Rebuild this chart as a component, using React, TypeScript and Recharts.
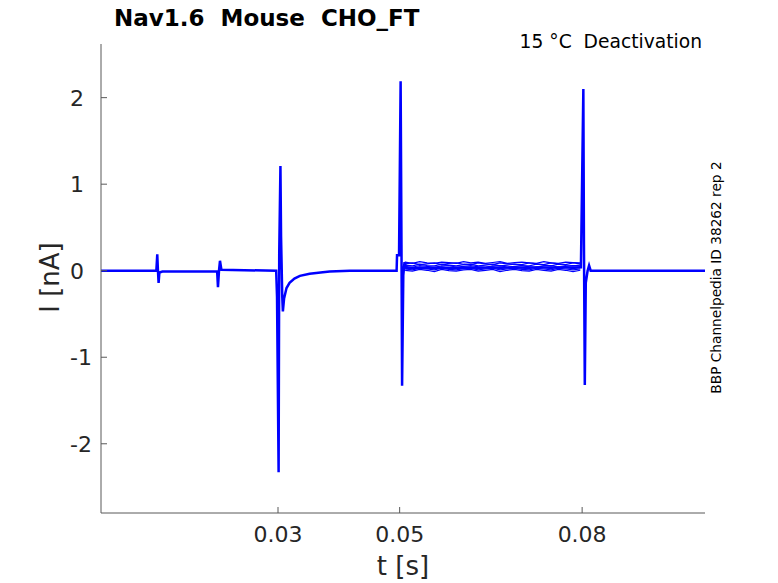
import { LineChart, Line, XAxis, YAxis } from "recharts";

// time [s] and current [nA] of the shared transient trace
const mainT = [
  0.0009, 0.01, 0.01015, 0.01025, 0.01037, 0.0105, 0.011, 0.02, 0.02013, 0.0203,
  0.02046, 0.0207, 0.0297, 0.02984, 0.0301, 0.0302, 0.0304, 0.0305, 0.0307, 0.0308,
  0.031, 0.0314, 0.0319, 0.0327, 0.0336, 0.0352, 0.037, 0.0385, 0.0418, 0.0495,
  0.04957, 0.0499, 0.05016, 0.0503, 0.0504, 0.0506, 0.0508, 0.0511, 0.0798, 0.0802,
  0.0803, 0.08044, 0.0806, 0.0809, 0.08114, 0.0814, 0.1002,
];
const mainI = [
  0.0, 0.0, 0.19, 0.02, -0.14, -0.02, -0.01, -0.01, -0.19, 0.0,
  0.115, 0.01, 0.0, -0.3, -2.33, 0.2, 1.21, 0.4, -0.3, -0.47,
  -0.32, -0.2, -0.14, -0.09, -0.06, -0.035, -0.02, -0.01, 0.0, 0.0,
  0.18, 0.18, 2.19, 0.3, -1.33, -0.05, 0.1, 0.03, 0.04, 2.1,
  0.3, -1.32, -0.14, 0.0, 0.06, 0.0, 0.0,
];

// plateau of the individual sweeps between 0.05 s and 0.08 s
const plateauT = [
  0.0509, 0.0521, 0.0533, 0.0545, 0.0557, 0.0569, 0.0581, 0.0593, 0.0605, 0.0617,
  0.0629, 0.0641, 0.0653, 0.0665, 0.0677, 0.0689, 0.0701, 0.0713, 0.0725, 0.0737,
  0.0749, 0.0761, 0.0773, 0.0785, 0.0797,
];
const sweep1 = [0.1, 0.085, 0.105, 0.09, 0.085, 0.1, 0.095, 0.085, 0.105, 0.09, 0.1, 0.085, 0.095, 0.105, 0.085, 0.095, 0.1, 0.09, 0.085, 0.105, 0.09, 0.085, 0.1, 0.095, 0.09];
const sweep2 = [0.08, 0.09, 0.07, 0.08, 0.09, 0.07, 0.085, 0.09, 0.075, 0.07, 0.09, 0.08, 0.07, 0.09, 0.08, 0.075, 0.07, 0.09, 0.08, 0.07, 0.09, 0.08, 0.07, 0.09, 0.08];
const sweep3 = [0.065, 0.055, 0.075, 0.06, 0.055, 0.075, 0.065, 0.055, 0.07, 0.075, 0.055, 0.065, 0.075, 0.055, 0.065, 0.075, 0.06, 0.055, 0.075, 0.065, 0.055, 0.075, 0.06, 0.055, 0.065];
const sweep4 = [0.05, 0.04, 0.06, 0.05, 0.04, 0.055, 0.06, 0.04, 0.05, 0.06, 0.045, 0.04, 0.055, 0.06, 0.04, 0.05, 0.06, 0.045, 0.04, 0.055, 0.06, 0.04, 0.05, 0.06, 0.05];
const sweep5 = [0.035, 0.025, 0.045, 0.035, 0.025, 0.045, 0.03, 0.025, 0.04, 0.045, 0.025, 0.035, 0.045, 0.025, 0.035, 0.045, 0.03, 0.025, 0.045, 0.035, 0.025, 0.045, 0.035, 0.025, 0.035];
const sweep6 = [0.02, 0.01, 0.03, 0.02, 0.01, 0.03, 0.015, 0.01, 0.025, 0.03, 0.01, 0.02, 0.03, 0.01, 0.02, 0.03, 0.015, 0.01, 0.03, 0.02, 0.01, 0.03, 0.02, 0.01, 0.02];
const sweep7 = [0.005, -0.005, 0.015, 0.005, -0.01, 0.015, 0.0, -0.005, 0.01, 0.015, -0.005, 0.005, 0.015, -0.01, 0.005, 0.015, 0.0, -0.005, 0.015, 0.005, -0.005, 0.015, 0.005, -0.01, 0.005];
const sweeps = [sweep1, sweep2, sweep3, sweep4, sweep5, sweep6, sweep7];

const xTicks = [0.03, 0.05, 0.08];
const yTicks = [-2, -1, 0, 1, 2];

const BLUE = "#0000ff";
const AXIS = "#595959";
const TEXT = "#262626";
const FONT = "'DejaVu Sans', sans-serif";

const mainData = mainT.map((t, k) => ({ t, i: mainI[k] }));
const sweepData = sweeps.map((s) => plateauT.map((t, k) => ({ t, i: s[k] })));

const XTick = ({ x, y, payload }: any) => (
  <g>
    <line x1={x} x2={x} y1={y} y2={y - 6} stroke={AXIS} />
    <text x={x} y={y + 29} textAnchor="middle" fontSize={22} fill={TEXT} fontFamily={FONT}>
      {payload.value}
    </text>
  </g>
);

const YTick = ({ x, y, payload }: any) => (
  <g>
    <line x1={x} x2={x + 6} y1={y} y2={y} stroke={AXIS} />
    <text x={x - 31} y={y} dy="0.36em" textAnchor="start" fontSize={22} fill={TEXT} fontFamily={FONT}>
      {payload.value}
    </text>
  </g>
);

export default function App() {
  return (
    <div style={{ position: "relative", width: 778, height: 583 }}>
      <style>{"body{margin:0}"}</style>
      <LineChart width={778} height={583} margin={{ top: 44, right: 73, left: 41, bottom: 30 }}>
        <XAxis
          dataKey="t"
          type="number"
          domain={[0.0009, 0.1002]}
          allowDataOverflow
          ticks={xTicks}
          tick={<XTick />}
          tickSize={0}
          tickMargin={0}
          height={40}
          axisLine={{ stroke: AXIS }}
        />
        <YAxis
          dataKey="i"
          type="number"
          domain={[-2.8, 2.62]}
          allowDataOverflow
          ticks={yTicks}
          tick={<YTick />}
          tickSize={0}
          tickMargin={0}
          width={60}
          axisLine={{ stroke: AXIS }}
        />
        {sweepData.map((d, k) => (
          <Line
            key={k}
            data={d}
            dataKey="i"
            type="linear"
            stroke={BLUE}
            strokeWidth={1.2}
            dot={false}
            isAnimationActive={false}
          />
        ))}
        <Line
          data={mainData}
          dataKey="i"
          type="linear"
          stroke={BLUE}
          strokeWidth={2.5}
          dot={false}
          isAnimationActive={false}
        />
      </LineChart>
      <svg
        width={778}
        height={583}
        style={{ position: "absolute", left: 0, top: 0, pointerEvents: "none" }}
        fontFamily={FONT}
      >
        <text x={114} y={26} fontSize={23} fontWeight="bold" fill="#000" style={{ whiteSpace: "pre" }}>
          {"Nav1.6  Mouse  CHO_FT"}
        </text>
        <text x={702} y={47.5} fontSize={18.7} textAnchor="end" fill="#000" style={{ whiteSpace: "pre" }}>
          {"15 °C  Deactivation"}
        </text>
        <text x={403} y={575} fontSize={26} textAnchor="middle" fill={TEXT}>
          t [s]
        </text>
        <text x={58.6} y={277.5} fontSize={26} textAnchor="middle" fill={TEXT} transform="rotate(-90 58.6 277.5)">
          I [nA]
        </text>
        <text x={721} y={277.5} fontSize={13.7} textAnchor="middle" fill="#000" transform="rotate(-90 721 277.5)">
          BBP Channelpedia ID 38262 rep 2
        </text>
      </svg>
    </div>
  );
}
